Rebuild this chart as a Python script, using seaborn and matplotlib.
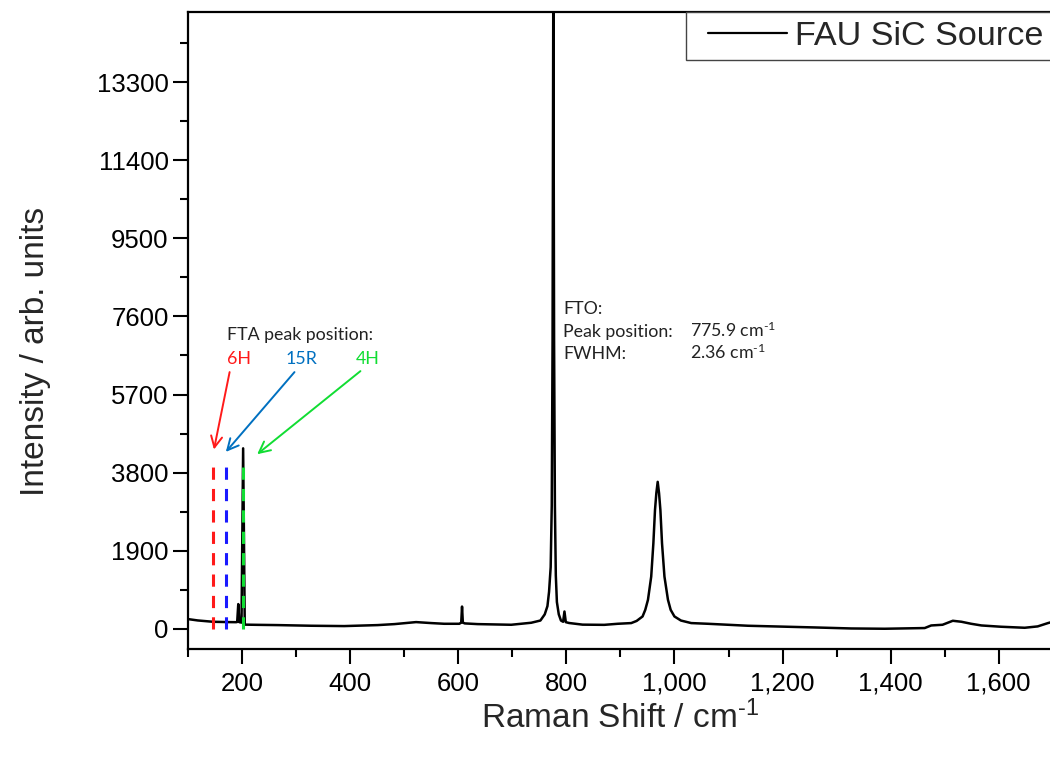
import numpy as np
import matplotlib
matplotlib.use("Agg")
import matplotlib.pyplot as plt
from matplotlib.ticker import MultipleLocator
from matplotlib.lines import Line2D
from matplotlib.legend_handler import HandlerLine2D
import seaborn as sns

# spectrum (Raman shift in cm-1, intensity in arb. units)
raman_shift = [100, 118, 146, 174, 189, 191, 193, 195, 199, 202, 205, 230, 266, 328,
               389, 451, 482, 522, 550, 574, 602, 605.5, 607, 608.5, 612, 636, 698,
               735, 752, 760, 765, 768, 771, 773, 774.5, 775.9, 777.3, 778.8, 780.5,
               782.5, 786, 790, 794, 796.5, 799, 805, 830, 870, 895, 920, 930, 941,
               946, 951, 957, 961, 964, 966.5, 969, 971.5, 974, 977, 981.5, 988, 993,
               1000, 1012, 1031, 1062, 1136, 1259, 1327, 1389, 1463, 1475, 1496, 1515,
               1531, 1549, 1568, 1604, 1648, 1672, 1691, 1700]
intensity = [235, 202, 170, 162, 160, 165, 600, 160, 150, 4390, 100, 95, 89, 73,
             65, 89, 113, 162, 138, 121, 121, 150, 540, 150, 130, 113, 97,
             146, 200, 350, 550, 900, 1500, 3000, 7000, 16000, 7000, 3000, 1300,
             650, 350, 200, 170, 420, 160, 140, 100, 95, 121, 138, 190, 299,
             460, 704, 1269, 2080, 2888, 3300, 3575, 3300, 2888, 2080, 1269, 704, 460,
             299, 200, 138, 121, 73, 32, 7, 0, 17, 80, 97, 194,
             170, 121, 80, 49, 24, 57, 138, 170]

# FTA peak positions of the polytypes
polytypes = ["6H", "15R", "4H"]
fta_pos = [146, 170, 202]
fta_top = 4000
line_colors = ["#ff1a1a", "#1a1aff", "#11dd33"]
text_colors = ["#ff1a1a", "#0070c0", "#11dd33"]
label_x = [172, 280, 411]
arrow_tail = [(177, 6245), (297, 6245), (419, 6269)]
arrow_tip = [(148, 4361), (170, 4303), (228, 4247)]

x_ticks = [200, 400, 600, 800, 1000, 1200, 1400, 1600]
x_ticklabels = ["200", "400", "600", "800", "1,000", "1,200", "1,400", "1,600"]
y_ticks = [0, 1900, 3800, 5700, 7600, 9500, 11400, 13300]

sns.set_style("ticks")
plt.rcParams["font.family"] = ["Liberation Sans", "DejaVu Sans"]
plt.rcParams["mathtext.default"] = "regular"

fig = plt.figure(figsize=(10.5, 7.58), dpi=100)
ax = fig.add_axes([188 / 1050, 108.7 / 758, 864.8 / 1050, 637 / 758])

sns.lineplot(x=raman_shift, y=intensity, color="black", lw=1.8,
             label="FAU SiC Source", ax=ax)

for pos, col in zip(fta_pos, line_colors):
    ax.vlines(pos, 0, fta_top, colors=col, linestyles=[(0, (4, 3))], lw=2.2, zorder=3)

anno_font = dict(family=["Lato", "DejaVu Sans"], fontsize=12.8)
ax.text(172, 7031, "FTA peak position:", color="#222222", **anno_font)
for name, lx, col, tail, tip in zip(polytypes, label_x, text_colors, arrow_tail, arrow_tip):
    ax.text(lx, 6448, name, color=col, **anno_font)
    ax.annotate("", xy=tip, xytext=tail,
                arrowprops=dict(arrowstyle="->,head_length=0.8,head_width=0.4",
                                color=col, lw=1.4, shrinkA=0, shrinkB=0))

ax.text(794, 7662, "FTO:", color="#222222", **anno_font)
ax.text(794, 7094, "Peak position:", color="#222222", **anno_font)
ax.text(1029, 7094, "775.9 cm$^{\u20101}$", color="#222222", **anno_font)
ax.text(794, 6560, "FWHM:", color="#222222", **anno_font)
ax.text(1029, 6560, "2.36 cm$^{\u20101}$", color="#222222", **anno_font)

ax.set_xlim(100, 1700)
ax.set_ylim(-500, 15000)
ax.set_xticks(x_ticks)
ax.set_xticklabels(x_ticklabels)
ax.set_yticks(y_ticks)
ax.xaxis.set_minor_locator(MultipleLocator(100))
ax.yaxis.set_minor_locator(MultipleLocator(950))
ax.tick_params(which="major", direction="out", length=11, width=1.5,
               labelsize=18.5, color="black", labelcolor="black")
ax.tick_params(which="minor", direction="out", length=5.5, width=1.5, color="black")
ax.tick_params(axis="x", which="major", pad=5)
ax.tick_params(axis="y", which="major", pad=3)
for s in ax.spines.values():
    s.set_linewidth(1.6)
    s.set_color("black")

ax.set_xlabel("Raman Shift / cm$^{\u20101}$", fontsize=24, labelpad=4)
ax.set_ylabel("Intensity / arb. units", fontsize=24)
ax.yaxis.set_label_coords(-0.158, 0.467)

leg = ax.legend(loc="upper left", bbox_to_anchor=(0.576, 1.0), borderaxespad=0,
                frameon=True, fancybox=False, fontsize=24.6, handlelength=2.7,
                handletextpad=0.25, borderpad=0.25, framealpha=1,
                handler_map={Line2D: HandlerLine2D(xpad=0.4)})
leg.get_frame().set_edgecolor("#444444")
leg.get_frame().set_linewidth(1.0)
for h in leg.get_lines():
    h.set_linewidth(1.6)

fig.savefig("out.png", dpi=100)
